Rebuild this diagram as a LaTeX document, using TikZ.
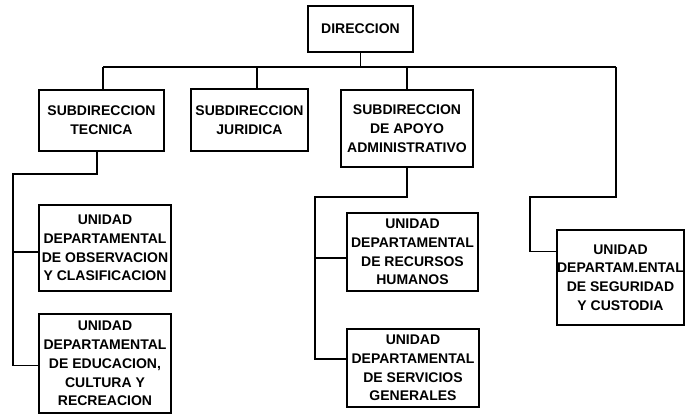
\documentclass[tikz,border=0pt]{standalone}
\usepackage{fontspec}
\setmainfont{Liberation Sans}
\tikzset{caja/.style={draw,line width=1.1pt,align=center,inner sep=0pt,
    font=\fontsize{14}{18.8}\selectfont\bfseries},
  linea/.style={line width=1.1pt}}
\begin{document}
\begin{tikzpicture}[x=1pt,y=-1pt]
     \useasboundingbox (0,0) rectangle (685,414);
     \node[caja,minimum width=105pt,minimum height=46pt] (dir) at (360.5,29) {DIRECCION};
     \node[caja,minimum width=125pt,minimum height=61pt] (tec) at (101.5,120.5) {SUBDIRECCION\\TECNICA};
     \node[caja,minimum width=117pt,minimum height=62pt] (jur) at (249.5,120) {SUBDIRECCION\\JURIDICA};
     \node[caja,minimum width=132pt,minimum height=77pt] (apo) at (407,128.5) {SUBDIRECCION\\DE APOYO\\ADMINISTRATIVO};
%	the units below:
     \node[caja,minimum width=132pt,minimum height=86pt] (obs) at (105,248) {UNIDAD\\DEPARTAMENTAL\\DE OBSERVACION\\Y CLASIFICACION};
     \node[caja,minimum width=132pt,minimum height=99pt] (edu) at (105,363.5) {UNIDAD\\DEPARTAMENTAL\\DE EDUCACION,\\CULTURA Y\\RECREACION};
     \node[caja,minimum width=131pt,minimum height=78pt] (rec) at (412.5,252) {UNIDAD\\DEPARTAMENTAL\\DE RECURSOS\\HUMANOS};
     \node[caja,minimum width=132pt,minimum height=78pt] (ser) at (413,368) {UNIDAD\\DEPARTAMENTAL\\DE SERVICIOS\\GENERALES};
     \node[caja,minimum width=127pt,minimum height=95pt] (seg) at (620.5,277.5) {UNIDAD\\DEPARTAM.ENTAL\\DE SEGURIDAD\\Y CUSTODIA};
%	now the lines:
     \coordinate (busL) at (103,67); \coordinate (busR) at (616,67);
     \coordinate (pj) at (257,67);
     \draw[linea] (dir.south) -- (dir.south |- busL);
     \draw[linea] (busL) -- (busR);
     \draw[linea] (busL) -- (busL |- tec.north);
     \draw[linea] (pj) -- (pj |- jur.north);
     \draw[linea] (apo.north |- busL) -- (apo.north);
     \coordinate (tb) at (97,174); \coordinate (lt) at (13,174);
     \coordinate (eduw) at ([yshift=-2pt]edu.west);
     \coordinate (obsw) at ([yshift=-4pt]obs.west);
     \draw[linea] (tec.south -| tb) -- (tb) -- (lt) |- (eduw);
     \draw[linea] (lt |- obsw) -- (obsw);
     \coordinate (mb) at (315,197);
     \coordinate (serw) at ([yshift=9pt]ser.west);
     \coordinate (recw) at ([yshift=-6pt]rec.west);
     \draw[linea] (apo.south) |- (mb) |- (serw);
     \draw[linea] (mb |- recw) -- (recw);
     \coordinate (rb) at (530,197);
     \coordinate (segw) at ([yshift=26pt]seg.west);
     \draw[linea] (busR) |- (rb) |- (segw);
\end{tikzpicture}
\end{document}
